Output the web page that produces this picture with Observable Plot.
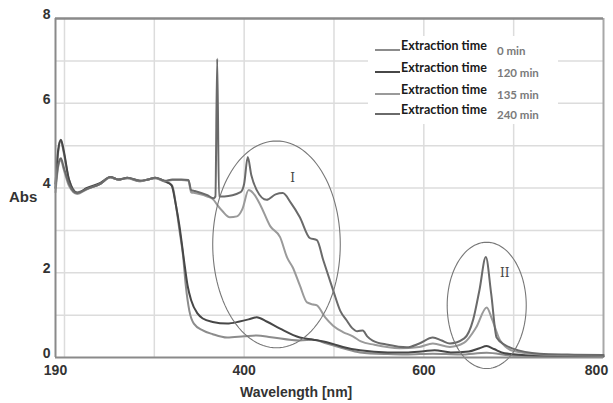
<!DOCTYPE html>
<html><head><meta charset="utf-8">
<script src="https://cdn.jsdelivr.net/npm/d3@7"></script>
<script src="https://cdn.jsdelivr.net/npm/@observablehq/plot@0.6"></script>
<style>
body{margin:0;background:#fff;}
#wrap{position:relative;width:613px;height:403px;overflow:hidden;}
.lab{position:absolute;font-family:"Liberation Sans",Arial,sans-serif;font-weight:bold;color:#333;white-space:nowrap;}
#legend{position:absolute;left:368px;top:36px;width:190px;height:88px;background:#fff;}
.sw{position:absolute;left:7px;width:25px;height:0;border-top:2px solid #777;}
.et{position:absolute;left:33px;font-family:Lato,"Open Sans",sans-serif;font-weight:bold;font-size:12.5px;color:#1a1a1a;}
.mn{position:absolute;left:129px;font-family:Lato,"Open Sans",sans-serif;font-weight:bold;font-size:11.5px;color:#7a7a7a;}
</style></head><body><div id="wrap"></div>
<script>
const seriesNames = ["0 min", "120 min", "135 min", "240 min"];
const seriesColors = ["#8c8c8c", "#474747", "#9a9a9a", "#6a6a6a"];

const s0 = [[190,4.0],[193,4.85],[196,5.12],[199,4.85],[205,4.2],[214,3.9],[225,3.98],[240,4.1],[251,4.25],[260,4.2],[270,4.23],[284,4.16],[293,4.2],[301,4.23],[312,4.16],[320,4.05],[324,3.6],[328,3.0],[332,2.4],[335,1.7],[339,1.1],[344,0.8],[354,0.64],[365,0.55],[381,0.47],[400,0.5],[414,0.52],[430,0.48],[462,0.40],[477,0.42],[492,0.33],[510,0.22],[529,0.12],[560,0.08],[580,0.07],[610,0.09],[640,0.07],[670,0.11],[700,0.04],[800,0.02]];
const s120 = [[190,4.1],[193,4.9],[196,5.14],[199,4.9],[205,4.2],[214,3.88],[225,4.0],[240,4.12],[251,4.26],[260,4.2],[270,4.24],[284,4.17],[293,4.2],[301,4.24],[312,4.15],[319,4.07],[324,3.6],[328,3.1],[333,2.3],[337,1.7],[341,1.35],[348,1.04],[354,0.92],[365,0.84],[381,0.80],[395,0.85],[405,0.9],[414,0.95],[425,0.85],[440,0.68],[462,0.47],[477,0.42],[492,0.36],[510,0.25],[529,0.17],[560,0.12],[580,0.12],[600,0.15],[612,0.17],[630,0.12],[650,0.14],[662,0.22],[670,0.27],[678,0.2],[690,0.1],[720,0.05],[800,0.03]];
const s135 = [[190,3.9],[193,4.5],[196,4.66],[199,4.45],[205,4.05],[214,3.86],[225,3.97],[240,4.1],[251,4.25],[260,4.2],[270,4.23],[284,4.16],[293,4.2],[301,4.23],[312,4.16],[320,4.19],[330,4.19],[338,4.17],[341,3.9],[345,3.88],[359,3.8],[366,3.72],[370,3.6],[376,3.45],[384,3.31],[392,3.33],[398,3.5],[405,3.95],[410,3.88],[418,3.6],[429,3.1],[440,2.84],[448,2.35],[454,2.13],[462,1.7],[470,1.3],[477,1.25],[481,1.23],[490,0.95],[499,0.75],[510,0.6],[521,0.5],[530,0.38],[545,0.3],[573,0.22],[595,0.25],[610,0.33],[629,0.25],[645,0.35],[658,0.7],[670,1.18],[676,0.9],[685,0.4],[700,0.15],[730,0.07],[800,0.05]];
const s240 = [[190,4.0],[193,4.55],[196,4.70],[199,4.5],[205,4.1],[214,3.88],[225,3.98],[240,4.1],[251,4.26],[260,4.2],[270,4.24],[284,4.17],[293,4.2],[301,4.24],[312,4.17],[320,4.2],[330,4.2],[338,4.19],[341,3.95],[345,3.93],[359,3.83],[366,3.76],[368,3.8],[370,7.05],[372,3.8],[378,3.8],[396,3.9],[400,4.1],[404,4.73],[408,4.3],[414,3.95],[425,3.72],[435,3.85],[443,3.88],[452,3.65],[462,3.31],[473,2.82],[481,2.77],[488,2.3],[499,1.59],[507,1.1],[514,0.88],[520,0.7],[526,0.62],[532,0.64],[537,0.5],[543,0.4],[560,0.3],[581,0.24],[595,0.33],[610,0.47],[620,0.4],[629,0.33],[645,0.45],[655,0.9],[662,1.6],[669,2.37],[675,1.5],[681,0.47],[690,0.3],[699,0.21],[729,0.09],[760,0.07],[800,0.06]];

const xTicks = [190, 400, 600];
const xTickLast = [800];
const yTicks = [0, 2, 4, 6, 8];
const xGrid = [200, 300, 400, 500, 600, 700];
const yGrid = [1, 2, 3, 4, 5, 6, 7];

// annotation ellipses (data units): label, centre, radii, label position
const ellNames = ["I", "II"];
const ellCenters = [[436, 2.67], [670, 1.23]];
const ellRadii = [[71, 2.44], [44, 1.49]];
const ellLabelPos = [[454, 4.24], [690, 2.0]];

const allSeries = [s0, s120, s135, s240];
const rows = [];
allSeries.forEach((s, i) => s.forEach(([w, a]) => rows.push({wl: w, abs: a, series: seriesNames[i]})));

const ellPts = [];
ellNames.forEach((n, i) => {
  for (let t = 0; t <= 360; t += 3) {
    const r = t * Math.PI / 180;
    ellPts.push({e: n, x: ellCenters[i][0] + ellRadii[i][0] * Math.cos(r), y: ellCenters[i][1] + ellRadii[i][1] * Math.sin(r)});
  }
});
const ellLabels = ellNames.map((n, i) => ({t: n, x: ellLabelPos[i][0], y: ellLabelPos[i][1]}));

const axisStyle = {tickSize: 0, fontSize: 14, fontWeight: "bold", fill: "#333", label: null};

const chart = Plot.plot({
  width: 613, height: 403,
  marginLeft: 55, marginRight: 10, marginTop: 18, marginBottom: 46,
  style: {fontFamily: "Liberation Sans, Arial, sans-serif", background: "#fff"},
  x: {domain: [190, 800]},
  y: {domain: [0, 8]},
  color: {domain: seriesNames, range: seriesColors},
  marks: [
    Plot.ruleX(xGrid, {stroke: "#dcdcdc", strokeWidth: 1.5}),
    Plot.ruleY(yGrid, {stroke: "#dcdcdc", strokeWidth: 1.5}),
    Plot.ruleX([800], {stroke: "#a8a8a8", strokeWidth: 2}),
    Plot.ruleY([8], {stroke: "#8a8a8a", strokeWidth: 2.5}),
    Plot.line(rows, {x: "wl", y: "abs", z: "series", stroke: "series", strokeWidth: 2, curve: "monotone-x"}),
    Plot.line(ellPts, {x: "x", y: "y", z: "e", stroke: "#777", strokeWidth: 1.1}),
    Plot.text(ellLabels, {x: "x", y: "y", text: "t", fontFamily: "DejaVu Serif, serif", fontSize: 12, fill: "#444"}),
    Plot.ruleX([190], {stroke: "#8a8a8a", strokeWidth: 2}),
    Plot.ruleY([0], {stroke: "#8a8a8a", strokeWidth: 2}),
    Plot.axisY({...axisStyle, ticks: yTicks, tickPadding: 5, dy: -4}),
    Plot.axisX({...axisStyle, ticks: xTicks, tickPadding: 8, tickFormat: d => String(d)}),
    Plot.axisX({...axisStyle, ticks: xTickLast, tickPadding: 8, dx: -7, tickFormat: d => String(d)})
  ]
});

const wrap = document.getElementById("wrap");
wrap.appendChild(chart);

const abs = document.createElement("div");
abs.className = "lab"; abs.textContent = "Abs";
abs.style.left = "9px"; abs.style.top = "188px"; abs.style.fontSize = "15px";
wrap.appendChild(abs);

const xl = document.createElement("div");
xl.className = "lab"; xl.textContent = "Wavelength [nm]";
xl.style.left = "240px"; xl.style.top = "384px"; xl.style.fontSize = "14px";
wrap.appendChild(xl);

const leg = document.createElement("div");
leg.id = "legend";
const lineY = [14, 36, 58, 78];
seriesNames.forEach((n, i) => {
  const sw = document.createElement("div");
  sw.className = "sw"; sw.style.top = (lineY[i] - 1) + "px"; sw.style.borderTopColor = seriesColors[i];
  leg.appendChild(sw);
  const et = document.createElement("div");
  et.className = "et"; et.textContent = "Extraction time"; et.style.top = (lineY[i] - 12) + "px";
  leg.appendChild(et);
  const mn = document.createElement("div");
  mn.className = "mn"; mn.textContent = n; mn.style.top = (lineY[i] - 6) + "px";
  leg.appendChild(mn);
});
wrap.appendChild(leg);
</script>
</body></html>
